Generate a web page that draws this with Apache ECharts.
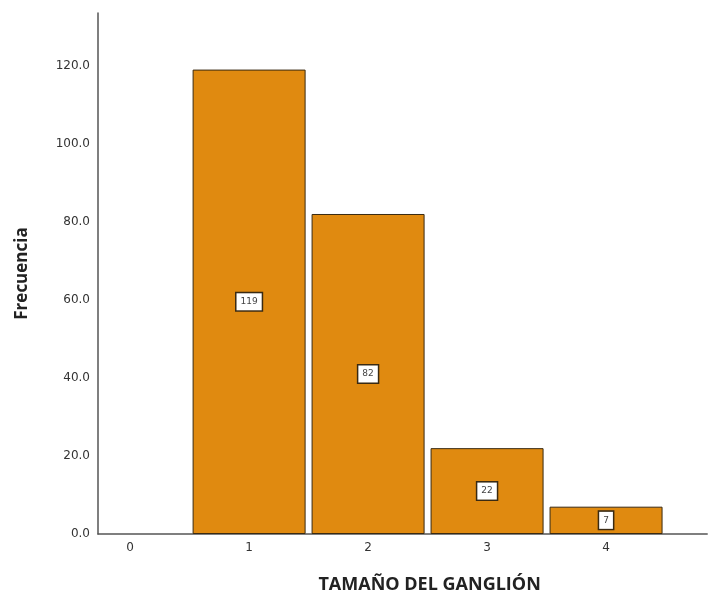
<!DOCTYPE html>
<html>
<head>
<meta charset="utf-8">
<script src="https://cdn.jsdelivr.net/npm/echarts@6/dist/echarts.min.js"></script>
<style>
  html, body { margin: 0; padding: 0; background: #ffffff; }
  #chart { width: 709px; height: 599px; }
</style>
</head>
<body>
<div id="chart"></div>
<script>
// Frequency of lymph node size categories
const categories = [0, 1, 2, 3, 4];
const frequencies = [0, 119, 82, 22, 7];
const yTicks = [0, 20, 40, 60, 80, 100, 120];

const barData = categories
  .map((c, i) => [c, frequencies[i]])
  .filter(d => d[1] > 0);

const isCategory = v => categories.some(c => Math.abs(c - v) < 1e-6);

const chart = echarts.init(document.getElementById('chart'));
const axisLabelStyle = { color: '#333', fontSize: 12, fontFamily: 'DejaVu Sans' };

chart.setOption({
  animation: false,
  backgroundColor: '#ffffff',
  grid: { left: 98, right: 0, top: 13, bottom: 61 },
  xAxis: {
    type: 'value',
    min: -0.27,
    max: 4.85,
    interval: 0.01,
    splitLine: { show: false },
    axisTick: { show: false },
    axisLine: { lineStyle: { color: '#555', width: 1.5 } },
    axisLabel: {
      ...axisLabelStyle,
      margin: 8,
      showMinLabel: false,
      showMaxLabel: false,
      formatter: v => (isCategory(v) ? String(Math.round(v)) : '')
    },
    name: 'TAMAÑO DEL GANGLIÓN',
    nameLocation: 'middle',
    nameGap: 42,
    nameTextStyle: {
      color: '#222', fontSize: 18, fontWeight: 'bold', fontFamily: 'Open Sans',
      padding: [0, 0, 0, 54]
    }
  },
  yAxis: {
    type: 'value',
    min: 0,
    max: 133.5,
    interval: 20,
    splitLine: { show: false },
    axisTick: { show: false },
    axisLine: { show: true, onZero: false, lineStyle: { color: '#555', width: 1.5 } },
    axisLabel: {
      ...axisLabelStyle,
      margin: 8,
      formatter: v => (yTicks.includes(v) ? v.toFixed(1) : '')
    },
    name: 'Frecuencia',
    nameLocation: 'middle',
    nameGap: 67,
    nameTextStyle: { color: '#222', fontSize: 17, fontWeight: 'bold', fontFamily: 'Open Sans' }
  },
  series: [{
    type: 'bar',
    data: barData,
    barWidth: 113,
    itemStyle: { color: '#E08A10', borderColor: '#3a2a12', borderWidth: 1 },
    label: {
      show: true,
      position: 'inside',
      formatter: p => String(p.value[1]),
      color: '#444',
      fontSize: 9,
      fontFamily: 'DejaVu Sans',
      backgroundColor: '#ffffff',
      borderColor: '#3a2a12',
      borderWidth: 1.5,
      padding: [4, 4]
    }
  }]
});
</script>
</body>
</html>
